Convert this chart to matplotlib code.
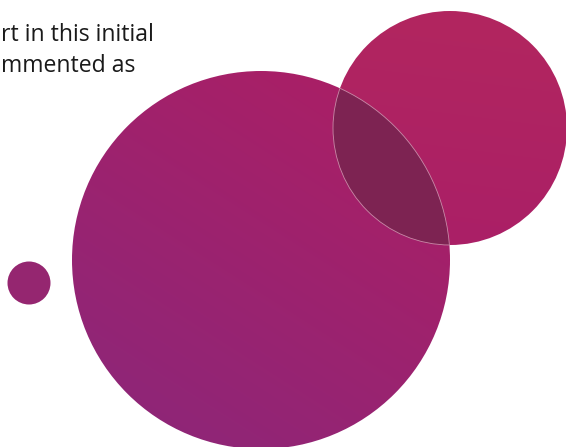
import numpy as np
import matplotlib
matplotlib.use("Agg")
import matplotlib.pyplot as plt
from matplotlib.patches import Circle
from matplotlib.colors import LinearSegmentedColormap

# circle data (pixel units of the original canvas)
circle_names = ["big", "right", "small"]
circle_x = [261, 450, 29]
circle_y = [260, 128, 283]
circle_r = [189, 117, 21.5]
overlap_color = "#7d2352"
text_lines = ["rt in this initial", "mmented as"]

W, H = 566, 447
fig = plt.figure(figsize=(W / 100, H / 100), dpi=100)
ax = fig.add_axes([0, 0, 1, 1])
ax.set_xlim(0, W)
ax.set_ylim(H, 0)
ax.set_aspect("auto")
ax.axis("off")

yy, xx = np.mgrid[0:H, 0:W]

def grad_img(c1, c2, x0, y0, x1, y1):
    dx, dy = x1 - x0, y1 - y0
    t = ((xx - x0) * dx + (yy - y0) * dy) / (dx * dx + dy * dy)
    t = np.clip(t, 0, 1)
    return t, LinearSegmentedColormap.from_list("g", [c1, c2])

# big circle gradient: top-right -> bottom-left
t, cm = grad_img("#ab1f65", "#8e2678", 380, 80, 150, 440)
big = Circle((circle_x[0], circle_y[0]), circle_r[0], transform=ax.transData,
             facecolor="none", edgecolor="none")
ax.add_patch(big)
im = ax.imshow(t, cmap=cm, extent=(0, W, H, 0), origin="upper", zorder=1,
               interpolation="bilinear", vmin=0, vmax=1)
im.set_clip_path(big)

# right circle gradient
t2, cm2 = grad_img("#b2265f", "#aa1f67", 450, 10, 420, 246)
right = Circle((circle_x[1], circle_y[1]), circle_r[1], transform=ax.transData,
               facecolor="none", edgecolor="none")
ax.add_patch(right)
im2 = ax.imshow(t2, cmap=cm2, extent=(0, W, H, 0), origin="upper", zorder=2,
                interpolation="bilinear", vmin=0, vmax=1)
im2.set_clip_path(right)

# overlap lens
lens = Circle((circle_x[1], circle_y[1]), circle_r[1], facecolor=overlap_color,
              edgecolor="#c98aa8", linewidth=0.6, zorder=3)
ax.add_patch(lens)
lens.set_clip_path(Circle((circle_x[0], circle_y[0]), circle_r[0], transform=ax.transData))
lens_edge = Circle((circle_x[0], circle_y[0]), circle_r[0], facecolor="none",
                   edgecolor="#c98aa8", linewidth=0.6, zorder=4)
ax.add_patch(lens_edge)
lens_edge.set_clip_path(Circle((circle_x[1], circle_y[1]), circle_r[1], transform=ax.transData))

# small circle
ax.add_patch(Circle((circle_x[2], circle_y[2]), circle_r[2], facecolor="#952670",
                    edgecolor="none", zorder=2))

# clipped text
for i, line in enumerate(text_lines):
    ax.text(1, 41 + i * 31, line, fontsize=16.6, family="Open Sans",
            color="#1a1a1a", ha="left", va="baseline", zorder=5)

fig.savefig("out.png", dpi=100)
